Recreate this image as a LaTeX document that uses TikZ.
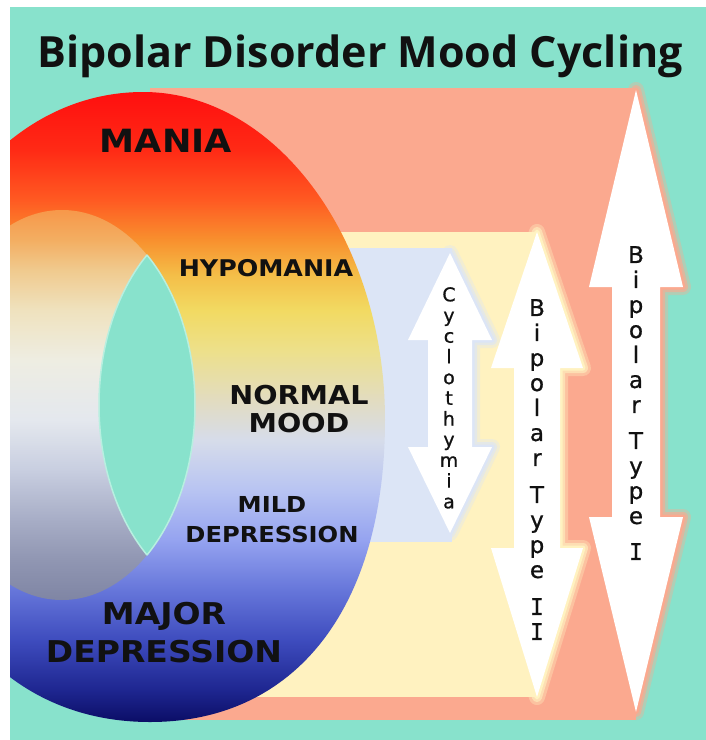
\documentclass[tikz,border=0pt]{standalone}
\usepackage{fontspec}
\setmainfont{DejaVu Sans}
\newfontfamily\titlefont{Open Sans}
\newfontfamily\labfont[FakeStretch=1.1]{DejaVu Sans}
\newfontfamily\vertfont[FakeBold=0.8]{DejaVu Sans}
\newfontfamily\slabfont[FakeBold=0.8]{DejaVu Sans Mono}
\newcommand{\sI}{{\slabfont I}}

\definecolor{bgteal}{HTML}{88E2CC}
\definecolor{salmon}{HTML}{FBA98F}
\definecolor{paleyellow}{HTML}{FFF2C0}
\definecolor{paleblue}{HTML}{DCE5F6}
\definecolor{ink}{HTML}{111111}
\definecolor{lensedge}{HTML}{B8EFE0}

\definecolor{m1}{HTML}{0B0D66}
\definecolor{m2}{HTML}{1E2690}
\definecolor{m3}{HTML}{3E4CBE}
\definecolor{m4}{HTML}{6676DA}
\definecolor{m5}{HTML}{95A3F0}
\definecolor{m6}{HTML}{B8C4F2}
\definecolor{m7}{HTML}{D6DCEA}
\definecolor{m8}{HTML}{E2DCC0}
\definecolor{m9}{HTML}{EDE08A}
\definecolor{m10}{HTML}{F2DA62}
\definecolor{m11}{HTML}{F4BE48}
\definecolor{m12}{HTML}{F8902E}
\definecolor{m13}{HTML}{FF5A22}
\definecolor{m14}{HTML}{FF2A15}
\definecolor{m15}{HTML}{FF0F0F}

\definecolor{h1}{HTML}{7F85A4}
\definecolor{h2}{HTML}{9096B2}
\definecolor{h3}{HTML}{A7ADC6}
\definecolor{h4}{HTML}{C8CEE0}
\definecolor{h5}{HTML}{E4E8EE}
\definecolor{h6}{HTML}{EEEDE2}
\definecolor{h7}{HTML}{EFE2BE}
\definecolor{h8}{HTML}{F0CA8E}
\definecolor{h9}{HTML}{F3AE62}
\definecolor{h10}{HTML}{F7984A}

\pgfdeclareverticalshading{moodshade}{100bp}{%
color(0bp)=(m1); color(25bp)=(m1); color(27.54bp)=(m2); color(31.51bp)=(m3);
color(35.48bp)=(m4); color(39.44bp)=(m5); color(43.41bp)=(m6); color(47.38bp)=(m7);
color(50.56bp)=(m8); color(54.52bp)=(m9); color(57.70bp)=(m10); color(60.48bp)=(m11);
color(63.25bp)=(m12); color(66.43bp)=(m13); color(70.40bp)=(m14); color(75bp)=(m15);
color(100bp)=(m15)}

\pgfdeclareverticalshading{holeshade}{100bp}{%
color(0bp)=(h1); color(25bp)=(h1); color(30.13bp)=(h2); color(35.26bp)=(h3);
color(41.67bp)=(h4); color(48.08bp)=(h5); color(55.77bp)=(h6); color(62.18bp)=(h7);
color(67.31bp)=(h8); color(71.15bp)=(h9); color(75bp)=(h10); color(100bp)=(h10)}

% double headed arrow: cx, top, base1, base2, bottom, head half width, shaft half width, glow colour
\newcommand{\dbarrow}[8]{%
  \foreach \lw/\op in {16/0.35,10/0.6,5/1}{%
    \draw[draw=#8, line width=\lw pt, line join=round, draw opacity=\op]
      (#1,#2) -- ({#1+#6},#3) -- ({#1+#7},#3) -- ({#1+#7},#4) -- ({#1+#6},#4) -- (#1,#5)
      -- ({#1-#6},#4) -- ({#1-#7},#4) -- ({#1-#7},#3) -- ({#1-#6},#3) -- cycle;}
  \fill[white]
      (#1,#2) -- ({#1+#6},#3) -- ({#1+#7},#3) -- ({#1+#7},#4) -- ({#1+#6},#4) -- (#1,#5)
      -- ({#1-#6},#4) -- ({#1-#7},#4) -- ({#1-#7},#3) -- ({#1-#6},#3) -- cycle;
}

\tikzset{
  moodlabel/.style={text=ink, align=center, inner sep=0pt},
  vtext/.style={text=ink, align=center, inner sep=0pt, anchor=north}
}

\begin{document}
\begin{tikzpicture}[x=1pt,y=-1pt]
\useasboundingbox (0,0) rectangle (706,740);
\fill[white] (0,0) rectangle (706,740);
\fill[bgteal] (10,7) rectangle (706,740);

\begin{scope}
\clip (10,7) rectangle (706,740);
% background bands
\fill[salmon] (150,88) rectangle (636,720);
\dbarrow{636}{90}{287}{517}{712}{47}{24}{salmon}
\fill[paleyellow] (150,232) rectangle (537,697);
\dbarrow{537}{232}{368}{548}{697}{46}{23}{paleyellow}
\fill[paleblue] (300,248) rectangle (452,542);
\dbarrow{450}{253}{340}{447}{533}{42}{22}{paleblue}

% the mood ring
\begin{scope}
\clip (143,92) .. controls (276,92) and (385,240) .. (385,420)
      .. controls (385,607) and (296,722) .. (150,722)
      .. controls (0,722) and (-100,600) .. (-100,407)
      .. controls (-100,220) and (10,92) .. (143,92) -- cycle;
\shade[shading=moodshade] (-110,92) rectangle (400,722);
\shade[shading=holeshade] (62,405) ellipse [x radius=133pt, y radius=195pt];
\begin{scope}
\clip (62,405) ellipse [x radius=133pt, y radius=195pt];
\fill[bgteal] (232,405) ellipse [x radius=133pt, y radius=195pt];
\draw[lensedge, line width=1.5pt] (232,405) ellipse [x radius=133pt, y radius=195pt];
\end{scope}
\begin{scope}
\clip (232,405) ellipse [x radius=133pt, y radius=195pt];
\draw[lensedge, line width=1.5pt] (62,405) ellipse [x radius=133pt, y radius=195pt];
\end{scope}
\end{scope}
\end{scope}

% title
\node[text=ink, font=\titlefont\bfseries\fontsize{43}{48}\selectfont] (title) at (360,56) {Bipolar Disorder Mood Cycling};

% mood labels
\node[moodlabel, font=\labfont\bfseries\fontsize{32}{38}\selectfont] (mania) at (166,141) {MANIA};
\node[moodlabel, font=\labfont\bfseries\fontsize{23}{26}\selectfont] (hypo) at (266,268) {HYPOMANIA};
\node[moodlabel, font=\labfont\bfseries\fontsize{26}{28}\selectfont] (normal) at (299,409) {NORMAL\\MOOD};
\node[moodlabel, font=\labfont\bfseries\fontsize{22}{30}\selectfont] (mild) at (272,520) {MILD\\DEPRESSION};
\node[moodlabel, font=\labfont\bfseries\fontsize{30}{38}\selectfont] (major) at (164,633) {MAJOR\\DEPRESSION};

% vertical arrow labels
\node[vtext, font=\vertfont\fontsize{19}{20.7}\selectfont] (cyclo) at (449,287)
  {C\\y\\c\\l\\o\\t\\h\\y\\m\\i\\a};
\node[vtext, font=\vertfont\fontsize{23}{25}\selectfont] (typeII) at (537,299)
  {B\\i\\p\\o\\l\\a\\r\\[12pt]T\\y\\p\\e\\[12pt]\sI\\\sI};
\node[vtext, font=\vertfont\fontsize{23}{25}\selectfont] (typeI) at (636,246)
  {B\\i\\p\\o\\l\\a\\r\\[11pt]T\\y\\p\\e\\[11pt]\sI};
\end{tikzpicture}
\end{document}
